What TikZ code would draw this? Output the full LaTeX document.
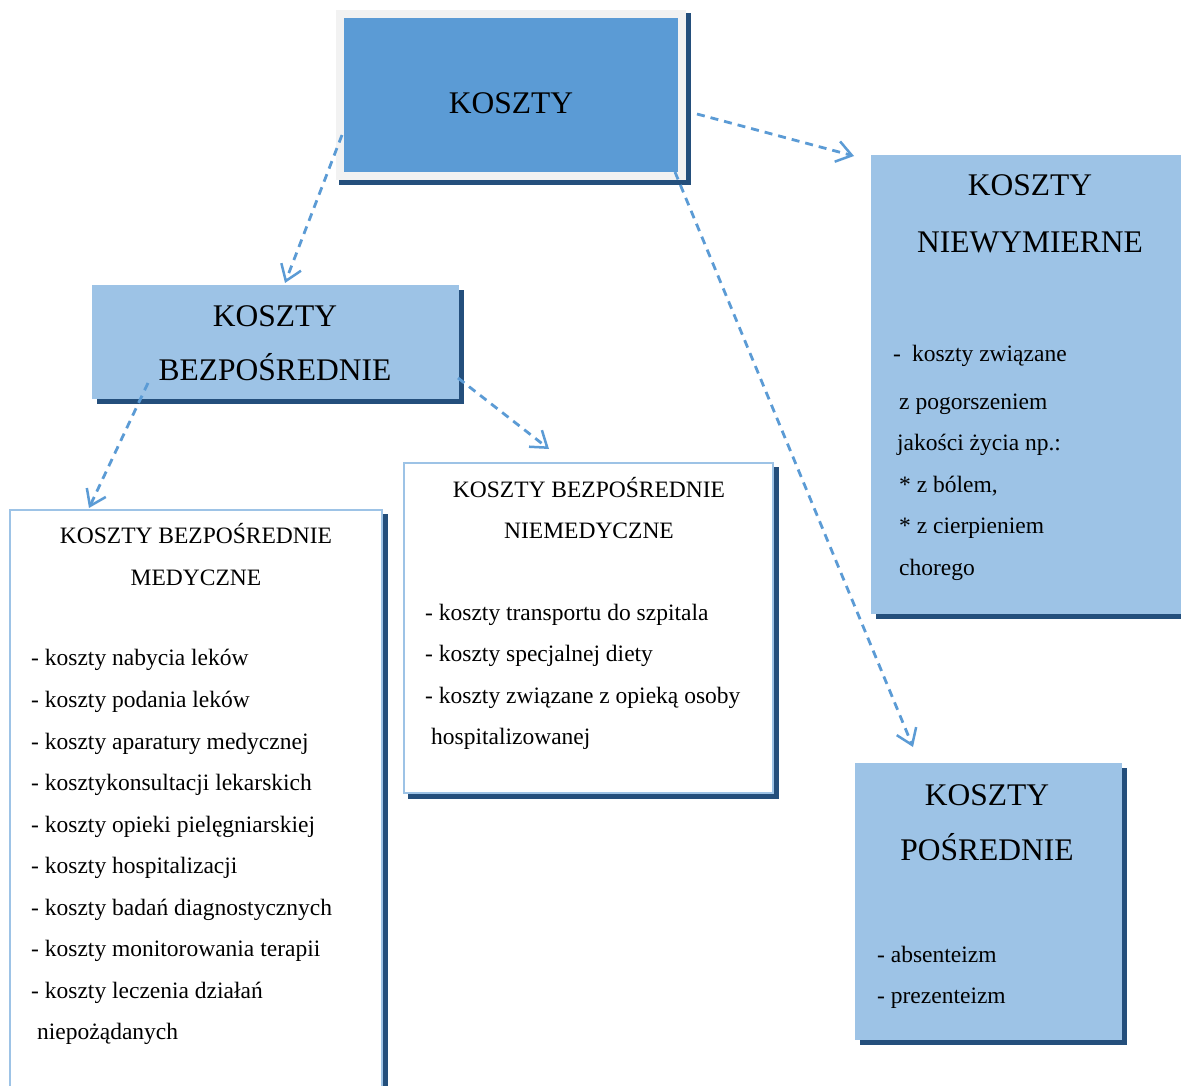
\documentclass[tikz,border=0pt]{standalone}
\usepackage{fontspec}
\setmainfont{Liberation Serif}
\usetikzlibrary{arrows.meta,calc,backgrounds}
\definecolor{topblue}{HTML}{5B9BD5}
\definecolor{lightblue}{HTML}{9DC3E6}
\definecolor{framegrey}{HTML}{F2F2F2}
\definecolor{shadowc}{HTML}{244F7C}
\definecolor{arrowc}{HTML}{5B9BD5}
\tikzset{
  topbox/.style={rectangle, inner sep=0pt, fill=topblue, draw=framegrey, line width=8pt},
  bluebox/.style={rectangle, inner sep=0pt, fill=lightblue, draw=lightblue, line width=1pt},
  whitebox/.style={rectangle, inner sep=0pt, fill=white, draw=lightblue, line width=2.5pt},
  bigtitle/.style={anchor=base, inner sep=0pt, font=\fontsize{31.5}{36}\selectfont},
  smalltitle/.style={anchor=base, inner sep=0pt, font=\fontsize{23.5}{28}\selectfont},
  item/.style={anchor=base west, inner sep=0pt, font=\fontsize{23.5}{28}\selectfont},
  conn/.style={draw=arrowc, line width=2.8pt, dash pattern=on 8pt off 6pt,
    -{Straight Barb[length=15pt,width=21pt,line width=2.5pt]}},
}
\begin{document}
\begin{tikzpicture}[x=1pt,y=-1pt]
\useasboundingbox (0,0) rectangle (1181,1085);
\clip (0,0) rectangle (1181,1085);

% boxes
\node[topbox, minimum width=342pt, minimum height=162pt] (top) at (511,95) {};
\node[bluebox, minimum width=366pt, minimum height=113pt] (bez) at (275,341.5) {};
\node[bluebox, minimum width=319pt, minimum height=458pt] (niew) at (1030.5,384) {};
\node[bluebox, minimum width=266pt, minimum height=276pt] (pos) at (988,901) {};
\node[whitebox, minimum width=372pt, minimum height=590pt] (med) at (196,805) {};
\node[whitebox, minimum width=369pt, minimum height=330pt] (niemed) at (588.5,628) {};

% page background and shadows
\begin{scope}[on background layer]
\fill[white] (0,0) rectangle (1181,1085);
\fill[shadowc] ($(top.north west)+(3,3)$) rectangle ($(top.south east)+(5,5)$);
\foreach \b in {bez,niew,pos,med,niemed}
  \fill[shadowc] ($(\b.north west)+(5,5)$) rectangle ($(\b.south east)+(5,5)$);
\end{scope}

% texts
\node[bigtitle] (t0) at (511,113) {KOSZTY};

\node[bigtitle] (t1a) at (275,326) {KOSZTY};
\node[bigtitle] (t1b) at (275,380) {BEZPOŚREDNIE};

\node[bigtitle] (t2a) at (1030,195) {KOSZTY};
\node[bigtitle] (t2b) at (1030,252) {NIEWYMIERNE};

\node[bigtitle] (t3a) at (987,805) {KOSZTY};
\node[bigtitle] (t3b) at (987,860) {POŚREDNIE};

\node[smalltitle] (t4a) at (196,543) {KOSZTY BEZPOŚREDNIE};
\node[smalltitle] (t4b) at (196,585) {MEDYCZNE};

\node[smalltitle] (t5a) at (589,497) {KOSZTY BEZPOŚREDNIE};
\node[smalltitle] (t5b) at (589,538) {NIEMEDYCZNE};

% left list
\node[item] (m1) at (31,665) {- koszty nabycia leków};
\node[item] (m2) at (31,707) {- koszty podania leków};
\node[item] (m3) at (31,749) {- koszty aparatury medycznej};
\node[item] (m4) at (31,790) {- kosztykonsultacji lekarskich};
\node[item] (m5) at (31,832) {- koszty opieki pielęgniarskiej};
\node[item] (m6) at (31,873) {- koszty hospitalizacji};
\node[item] (m7) at (31,915) {- koszty badań diagnostycznych};
\node[item] (m8) at (31,956) {- koszty monitorowania terapii};
\node[item] (m9) at (31,998) {- koszty leczenia działań};
\node[item] (m10) at (37,1039) {niepożądanych};

% middle list
\node[item] (n1) at (425,620) {- koszty transportu do szpitala};
\node[item] (n2) at (425,661) {- koszty specjalnej diety};
\node[item] (n3) at (425,703) {- koszty związane z opieką osoby};
\node[item] (n4) at (431,744) {hospitalizowanej};

% niewymierne list
\node[item] (w1) at (893,361) {-\hspace{11pt}koszty związane};
\node[item] (w2) at (899,409) {z pogorszeniem};
\node[item] (w3) at (897,450) {jakości życia np.:};
\node[item] (w4) at (899,492) {* z bólem,};
\node[item] (w5) at (899,533) {* z cierpieniem};
\node[item] (w6) at (899,575) {chorego};

% posrednie list
\node[item] (p1) at (877,962) {- absenteizm};
\node[item] (p2) at (877,1003) {- prezenteizm};

% connector end points
\coordinate (a1s) at (342,135);
\coordinate (a1e) at (285,283);
\coordinate (a2s) at (697,114);
\coordinate (a2e) at (854,156);
\coordinate (a3s) at (675,172);
\coordinate (a3e) at (913,747);
\coordinate (a4s) at (148,383);
\coordinate (a4e) at (89,508);
\coordinate (a5s) at (458,378);
\coordinate (a5e) at (549,449);

\draw[conn] (a1s) -- (a1e);
\draw[conn] (a2s) -- (a2e);
\draw[conn] (a3s) -- (a3e);
\draw[conn] (a4s) -- (a4e);
\draw[conn] (a5s) -- (a5e);
\end{tikzpicture}
\end{document}
